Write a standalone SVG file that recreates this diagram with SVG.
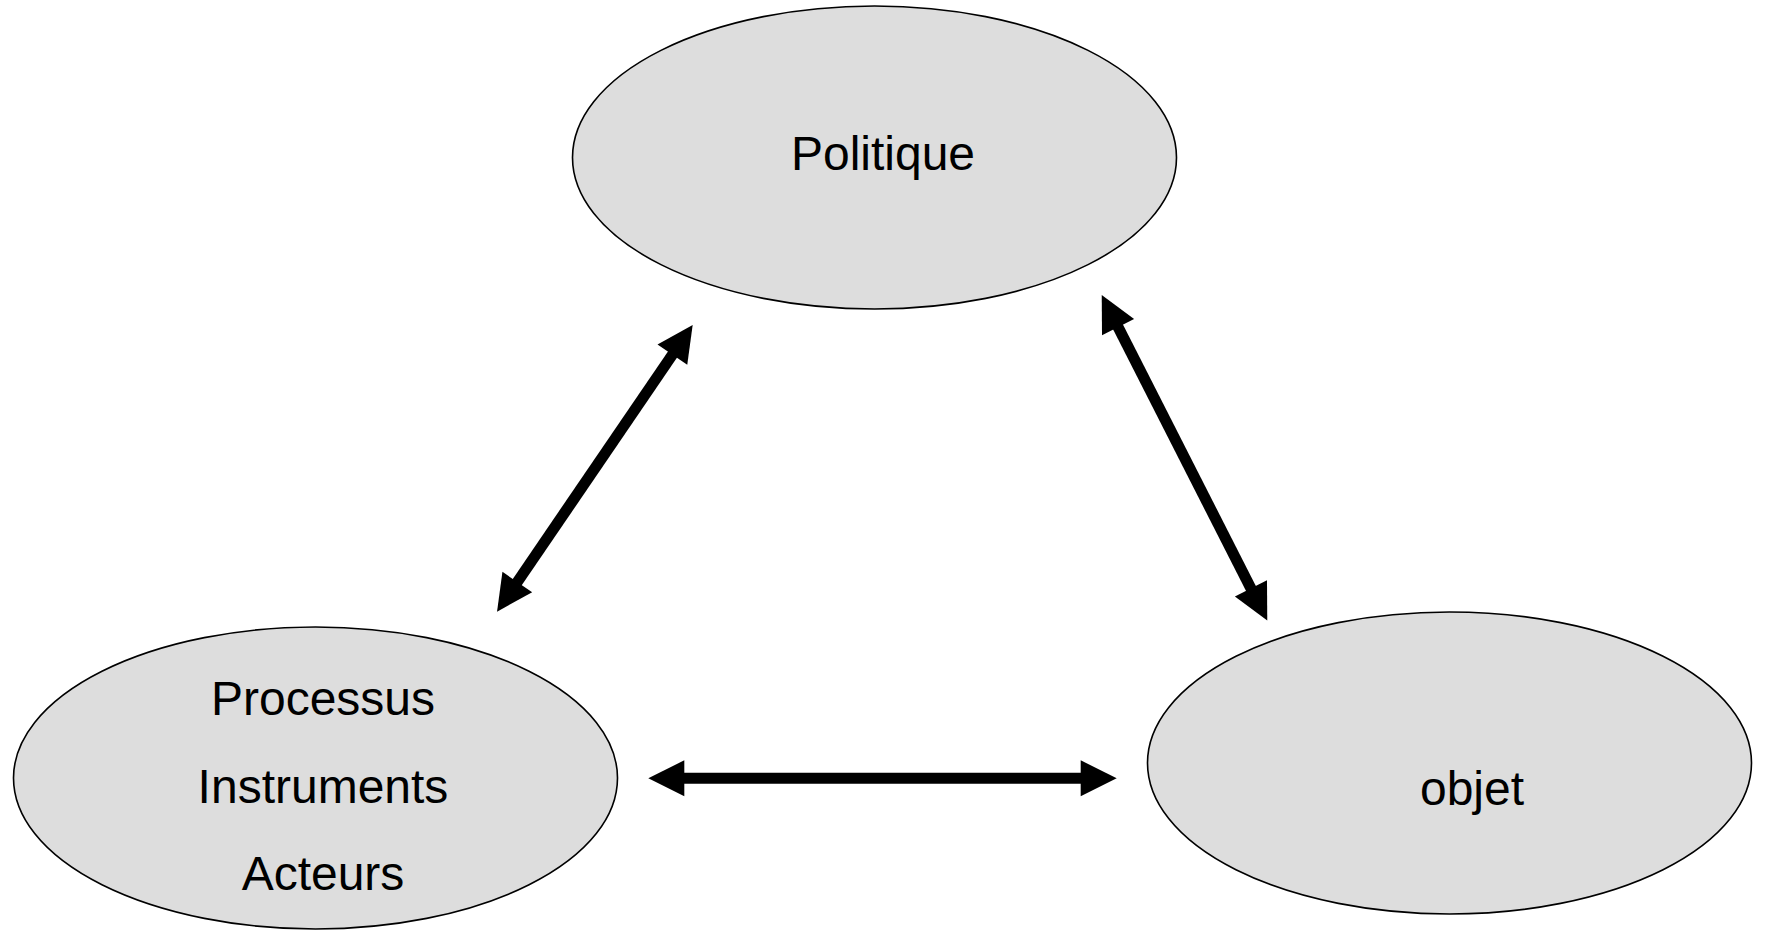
<svg xmlns="http://www.w3.org/2000/svg" width="1768" height="937" viewBox="0 0 1768 937">
<style>
.node ellipse{fill:#dddddd;stroke:#000;stroke-width:1.6}
.lbl{font-family:"Liberation Sans",Arial,sans-serif;font-size:48px;fill:#000;text-anchor:middle}
.conn line{stroke:#000;stroke-width:11;marker-start:url(#ah);marker-end:url(#ah)}
</style>
<defs>
<marker id="ah" markerUnits="userSpaceOnUse" markerWidth="60" markerHeight="60" refX="0" refY="0" viewBox="-30 -30 60 60" orient="auto-start-reverse" overflow="visible">
<path d="M20,0 L-16,-18 L-16,18 Z" fill="#000"/>
</marker>
</defs>
<rect width="1768" height="937" fill="#fff"/>
<g id="politique" class="node">
<ellipse cx="874.5" cy="157.5" rx="302" ry="151.5"/>
<text class="lbl" x="883" y="170">Politique</text>
</g>
<g id="processus" class="node">
<ellipse cx="315.5" cy="778" rx="302" ry="151"/>
<text class="lbl" x="323" y="715">Processus</text>
<text class="lbl" x="323" y="803">Instruments</text>
<text class="lbl" x="323" y="890">Acteurs</text>
</g>
<g id="objet" class="node">
<ellipse cx="1449.5" cy="763" rx="302" ry="151"/>
<text class="lbl" x="1472" y="805">objet</text>
</g>
<g id="connectors" class="conn">
<line x1="508.3" y1="595.2" x2="681.4" y2="341.5"/>
<line x1="1110.8" y1="312.8" x2="1258.2" y2="602.7"/>
<line x1="668.3" y1="778.3" x2="1096.7" y2="778.3"/>
</g>
</svg>
